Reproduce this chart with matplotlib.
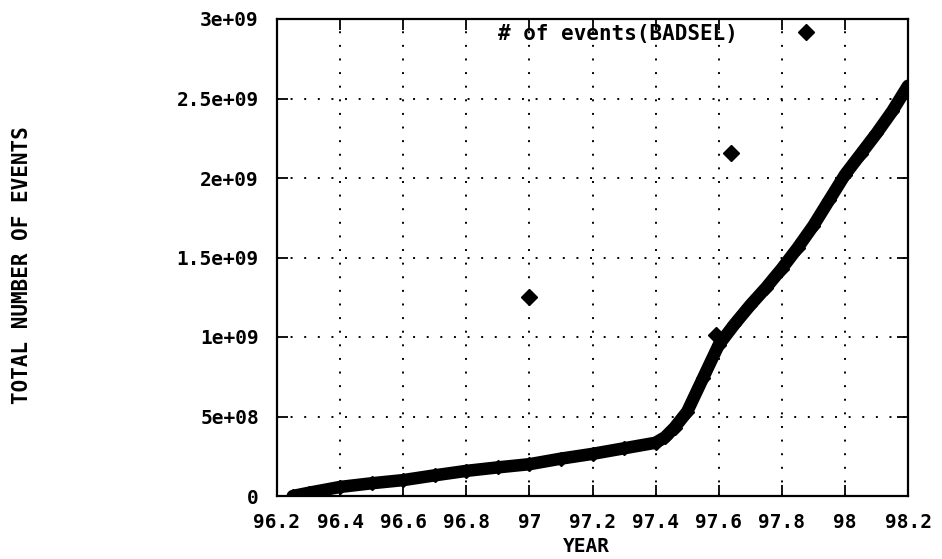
import matplotlib
matplotlib.use("Agg")
import matplotlib.pyplot as plt

# ---- data ----
curve_year = [96.25, 96.3, 96.4, 96.5, 96.6, 96.7, 96.8, 96.9, 97.0, 97.1,
              97.2, 97.3, 97.4, 97.43, 97.46, 97.5, 97.55, 97.6, 97.65, 97.7,
              97.75, 97.8, 97.85, 97.9, 97.95, 98.0, 98.05, 98.1, 98.15, 98.2]
curve_events = [0.0e9, 0.02e9, 0.057e9, 0.08e9, 0.10e9, 0.13e9, 0.158e9, 0.18e9, 0.20e9, 0.235e9,
                0.265e9, 0.30e9, 0.335e9, 0.37e9, 0.43e9, 0.53e9, 0.74e9, 0.95e9, 1.08e9, 1.20e9,
                1.31e9, 1.43e9, 1.56e9, 1.70e9, 1.86e9, 2.02e9, 2.15e9, 2.28e9, 2.42e9, 2.58e9]
outlier_year = [97.0, 97.59, 97.64]
outlier_events = [1.25e9, 1.01e9, 2.16e9]

x_ticks = [96.2, 96.4, 96.6, 96.8, 97.0, 97.2, 97.4, 97.6, 97.8, 98.0, 98.2]
x_tick_labels = ["96.2", "96.4", "96.6", "96.8", "97", "97.2", "97.4", "97.6", "97.8", "98", "98.2"]
y_ticks = [0, 5e8, 1e9, 1.5e9, 2e9, 2.5e9, 3e9]
y_tick_labels = ["0", "5e+08", "1e+09", "1.5e+09", "2e+09", "2.5e+09", "3e+09"]
series_label = "# of events(BADSEL)"

FONT = "DejaVu Sans Mono"
FS = 14

fig = plt.figure(figsize=(9.42, 5.59), dpi=100)
ax = fig.add_axes([277 / 942, 63 / 559, 631 / 942, 477 / 559])

ax.plot(curve_year, curve_events, color="black", lw=9, solid_capstyle="round",
        solid_joinstyle="round", zorder=3)
h, = ax.plot(curve_year, curve_events, ls="none", marker="D", ms=7, color="black",
             label=series_label, zorder=4)
ax.plot(outlier_year, outlier_events, ls="none", marker="D", ms=8, color="black", zorder=4)

ax.set_xlim(96.2, 98.2)
ax.set_ylim(0, 3e9)
ax.set_xticks(x_ticks)
ax.set_xticklabels(x_tick_labels)
ax.set_yticks(y_ticks)
ax.set_yticklabels(y_tick_labels)

ax.tick_params(direction="in", length=8, width=1.3, top=True, right=True,
               labelsize=FS, pad=12, colors="black")
for lab in ax.get_xticklabels() + ax.get_yticklabels():
    lab.set_fontfamily(FONT)
    lab.set_fontweight("bold")
ax.tick_params(axis="y", pad=13)

for s in ax.spines.values():
    s.set_linewidth(1.6)
    s.set_color("black")

ax.grid(True, color="black", linestyle=(0, (1, 6)), linewidth=1.4)
ax.set_axisbelow(True)

ax.set_xlabel("YEAR", fontsize=FS, fontfamily=FONT, fontweight="bold", va="center")
ax.xaxis.set_label_coords(0.49, -0.105)
ax.set_ylabel("TOTAL NUMBER OF EVENTS", fontsize=15, fontfamily=FONT, fontweight="bold")
ax.yaxis.set_label_coords(-0.388, 0.483)

leg = ax.legend(handles=[h], labels=[series_label], loc="upper right",
                bbox_to_anchor=(0.872, 0.99), markerfirst=False, frameon=False,
                handlelength=2.0, handletextpad=2.3, borderpad=0, borderaxespad=0,
                prop={"family": FONT, "size": 15, "weight": "bold"})
leg.legend_handles[0].set_markersize(8)

fig.savefig("out.png", dpi=100)
